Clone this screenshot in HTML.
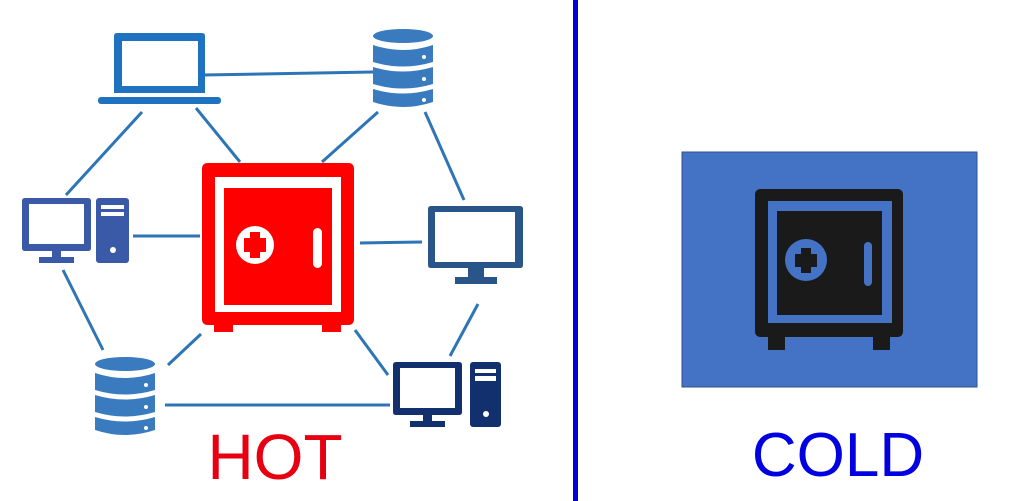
<!DOCTYPE html>
<html><head><style>
html,body{margin:0;padding:0;background:#fff;width:1024px;height:501px;overflow:hidden}
svg{display:block}
text{font-family:"Liberation Sans",sans-serif}
</style></head><body>
<svg width="1024" height="501" viewBox="0 0 1024 501">
<g stroke="#2e75b6" stroke-width="3" fill="none">
<line x1="203" y1="75" x2="373" y2="72"/>
<line x1="142" y1="112" x2="66" y2="195"/>
<line x1="196" y1="108" x2="240" y2="162"/>
<line x1="378" y1="112" x2="322" y2="162"/>
<line x1="425" y1="112" x2="464" y2="200"/>
<line x1="133" y1="236" x2="200" y2="236"/>
<line x1="360" y1="243" x2="422" y2="242"/>
<line x1="63" y1="270" x2="103" y2="350"/>
<line x1="201" y1="334" x2="168" y2="365"/>
<line x1="355" y1="330" x2="388" y2="375"/>
<line x1="478" y1="304" x2="450" y2="356"/>
<line x1="165" y1="405" x2="390" y2="405"/>
</g>
<!-- laptop -->
<g fill="#1f72c0">
<path fill-rule="evenodd" d="M117 33h85q3 0 3 3v57h-91v-57q0-3 3-3zM122 41v45h76v-45z"/>
<rect x="98" y="97" width="123" height="7" rx="3"/>
</g>
<!-- DB top right -->
<g fill="#3a7bc0">
<ellipse cx="403" cy="36" rx="30" ry="7"/>
<path d="M373 45q30 10 60 0v17q-30 9-60 0z"/>
<path d="M373 67q30 9 60 0v17q-30 9-60 0z"/>
<path d="M373 89q30 9 60 0v13q-30 10-60 0z"/>
<g fill="#fff"><circle cx="424" cy="57" r="2"/><circle cx="424" cy="79" r="2"/><circle cx="424" cy="100" r="2"/></g>
</g>
<!-- left PC -->
<g fill="#3a5aa8">
<path fill-rule="evenodd" d="M25 198h63q3 0 3 3v47q0 3-3 3h-63q-3 0-3-3v-47q0-3 3-3zM29 204v40h55v-40z"/>
<rect x="52" y="251" width="9" height="7"/><rect x="39" y="257" width="35" height="6"/>
<rect x="96" y="198" width="33" height="65" rx="3"/>
<g fill="#fff"><rect x="101" y="205" width="23" height="4"/><rect x="101" y="212" width="23" height="4"/><circle cx="113" cy="250" r="3"/></g>
</g>
<!-- right monitor -->
<g fill="#2a5589">
<path fill-rule="evenodd" d="M431 206h89q3 0 3 3v56q0 3-3 3h-89q-3 0-3-3v-56q0-3 3-3zM435 212v50h80v-50z"/>
<rect x="468" y="268" width="16" height="10"/><rect x="455" y="277" width="42" height="7"/>
</g>
<!-- bottom-left DB -->
<g fill="#3a7bc0">
<ellipse cx="125" cy="364" rx="30" ry="7"/>
<path d="M95 373q30 10 60 0v17q-30 9-60 0z"/>
<path d="M95 395q30 9 60 0v17q-30 9-60 0z"/>
<path d="M95 417q30 9 60 0v13q-30 10-60 0z"/>
<g fill="#fff"><circle cx="146" cy="385" r="2"/><circle cx="146" cy="407" r="2"/><circle cx="146" cy="428" r="2"/></g>
</g>
<!-- bottom-right PC -->
<g fill="#13306e">
<path fill-rule="evenodd" d="M396 362h63q3 0 3 3v47q0 3-3 3h-63q-3 0-3-3v-47q0-3 3-3zM400 368v40h55v-40z"/>
<rect x="423" y="415" width="9" height="7"/><rect x="410" y="421" width="35" height="6"/>
<rect x="470" y="362" width="31" height="65" rx="3"/>
<g fill="#fff"><rect x="475" y="369" width="21" height="4"/><rect x="475" y="376" width="21" height="5"/><circle cx="486" cy="414" r="3"/></g>
</g>
<!-- red safe -->
<g fill="#ff0000">
<path fill-rule="evenodd" d="M208 163h140q6 0 6 6v150q0 6-6 6h-140q-6 0-6-6v-150q0-6 6-6zM215 177v135h126v-135z"/>
<rect x="224" y="188" width="108" height="117"/>
<rect x="214" y="325" width="19" height="7"/><rect x="322" y="325" width="19" height="7"/>
<circle cx="255" cy="245" r="19" fill="#fff"/>
<path d="M250 232h10v6h6v14h-6v6h-10v-6h-6v-14h6z"/>
<rect x="313" y="228" width="9" height="40" rx="4.5" fill="#fff"/>
</g>
<text x="275" y="479" font-size="64" fill="#e60012" text-anchor="middle">HOT</text>
<!-- divider -->
<rect x="573" y="0" width="5" height="501" fill="#0000d8"/>
<!-- cold -->
<rect x="682" y="152" width="295" height="235" fill="#4472c4" stroke="#2f528f" stroke-width="1"/>
<g fill="#1a1a1a">
<path fill-rule="evenodd" d="M761 189h136q6 0 6 6v136q0 6-6 6h-136q-6 0-6-6v-136q0-6 6-6zM768 201v122h124v-122z"/>
<rect x="777" y="211" width="105" height="104"/>
<rect x="768" y="337" width="17" height="13"/><rect x="873" y="337" width="17" height="13"/>
<circle cx="806" cy="260" r="21" fill="#4472c4"/>
<path d="M801 248h10v6h6v13h-6v6h-10v-6h-6v-13h6z"/>
<rect x="864" y="242" width="8" height="44" rx="4" fill="#4472c4"/>
</g>
<text x="838" y="476" font-size="62" fill="#0000e0" text-anchor="middle">COLD</text>
</svg>
</body></html>
